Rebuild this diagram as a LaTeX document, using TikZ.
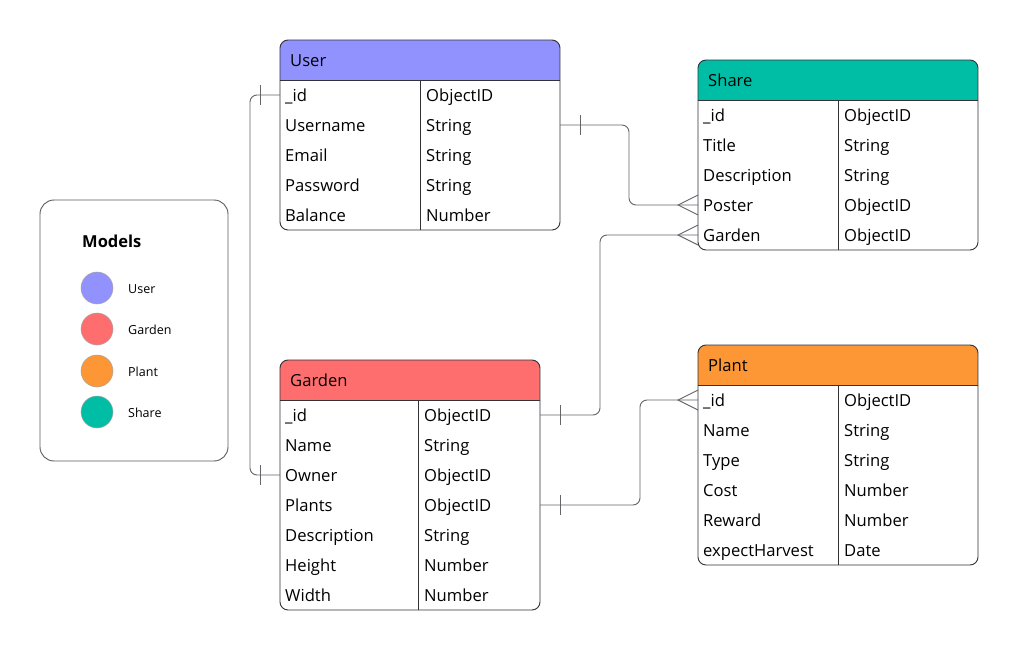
\documentclass[tikz,border=0pt]{standalone}
\usepackage{fontspec}
\setmainfont{Open Sans}
\usetikzlibrary{calc}
\definecolor{userc}{RGB}{146,146,255}
\definecolor{gardenc}{RGB}{255,110,110}
\definecolor{plantc}{RGB}{253,150,52}
\definecolor{sharec}{RGB}{0,190,165}
\definecolor{edge}{RGB}{50,50,55}
\definecolor{wire}{RGB}{100,100,105}

% one entity table: name, left, top, width, divider offset, header colour, title, field/type rows
\newcommand\ertable[8]{%
  \foreach [count=\i] \f/\t in {#8}{%
    \node[rowbox, minimum width=#4] (#1-\i) at ({#2+#4/2},{#3+25+30*\i}) {};
    \node[cell] at ([xshift=5pt,yshift=-6.6pt]#1-\i.west) {\f};
    \node[cell] at ([xshift=#5pt+6pt,yshift=-6.6pt]#1-\i.west) {\t};
    \xdef\nrows{\i}%
  }
  \pgfmathsetmacro\tb{#3+40+30*\nrows}
  \begin{scope}
    \clip[rounded corners=8pt] (#2,#3) rectangle ({#2+#4},\tb);
    \fill[#6] (#2,#3) rectangle ({#2+#4},{#3+40});
  \end{scope}
  \node[cell] (#1) at ({#2+10},{#3+26.6}) {#7};
  \draw[tbl, rounded corners=8pt] (#2,#3) rectangle ({#2+#4},\tb);
  \draw[tbl] (#2,{#3+40}) -- ({#2+#4},{#3+40});
  \draw[tbl] ({#2+#5},{#3+40}) -- ({#2+#5},\tb);
}

\begin{document}
\begin{tikzpicture}[x=1pt,y=-1pt,
  rowbox/.style={minimum height=30pt, inner sep=0pt, outer sep=0pt},
  cell/.style={anchor=base west, inner sep=0pt, font=\fontsize{16.6}{19}\selectfont},
  tbl/.style={draw=edge, line width=0.9pt},
  conn/.style={draw=wire, line width=0.9pt},
  legdot/.style={circle, minimum size=32pt, inner sep=0pt, draw=black!35, line width=0.5pt},
  leglabel/.style={anchor=west, inner sep=0pt, font=\fontsize{12.5}{14}\selectfont}]
\useasboundingbox (0,0) rectangle (1018,650);
\fill[white] (0,0) rectangle (1018,650);

% legend
\draw[draw=edge!80, line width=0.9pt, rounded corners=14pt] (40,200) rectangle (228,461);
\node[anchor=base west, inner sep=0pt, font=\fontsize{16.5}{18}\selectfont\bfseries] (lg-title) at (82,247.5) {Models};
\node[legdot, fill=userc] (lg-user) at (97,288) {};
\node[legdot, fill=gardenc] (lg-garden) at (97,329) {};
\node[legdot, fill=plantc] (lg-plant) at (97,371) {};
\node[legdot, fill=sharec] (lg-share) at (97,412) {};
\node[leglabel] (lg-user-t) at (128,289) {User};
\node[leglabel] (lg-garden-t) at (128,330) {Garden};
\node[leglabel] (lg-plant-t) at (128,372) {Plant};
\node[leglabel] (lg-share-t) at (128,413) {Share};

% entities
\ertable{user}{280}{40}{280}{140}{userc}{User}
  {\_id/ObjectID, Username/String, Email/String, Password/String, Balance/Number}
\ertable{share}{698}{60}{280}{140}{sharec}{Share}
  {\_id/ObjectID, Title/String, Description/String, Poster/ObjectID, Garden/ObjectID}
\ertable{garden}{280}{360}{260}{138}{gardenc}{Garden}
  {\_id/ObjectID, Name/String, Owner/ObjectID, Plants/ObjectID, Description/String, Height/Number, Width/Number}
\ertable{plant}{698}{345}{280}{140}{plantc}{Plant}
  {\_id/ObjectID, Name/String, Type/String, Cost/Number, Reward/Number, expectHarvest/Date}

% relations
\draw[conn, rounded corners=7pt] (user-1.west) -- ++(-30,0) |- (garden-3.west);
\draw[conn, rounded corners=7pt] (user-2.east) -- ++(69,0) |- (share-4.west);
\draw[conn, rounded corners=7pt] (garden-1.east) -- ++(60,0) |- (share-5.west);
\draw[conn, rounded corners=7pt] (garden-4.east) -- ++(100,0) |- (plant-1.west);

% one-side bars
\draw[conn] ([xshift=-20pt,yshift=10pt]user-1.west) -- ++(0,20);
\draw[conn] ([xshift=-20pt,yshift=10pt]garden-3.west) -- ++(0,20);
\draw[conn] ([xshift=20pt,yshift=10pt]user-2.east) -- ++(0,20);
\draw[conn] ([xshift=20pt,yshift=10pt]garden-1.east) -- ++(0,20);
\draw[conn] ([xshift=20pt,yshift=10pt]garden-4.east) -- ++(0,20);

% many-side crow's feet
\foreach \r in {share-4, share-5, plant-1}{
  \draw[conn] ([yshift=10pt]\r.west) -- ([xshift=-20pt]\r.west) -- ([yshift=-10pt]\r.west);
}
\end{tikzpicture}
\end{document}
